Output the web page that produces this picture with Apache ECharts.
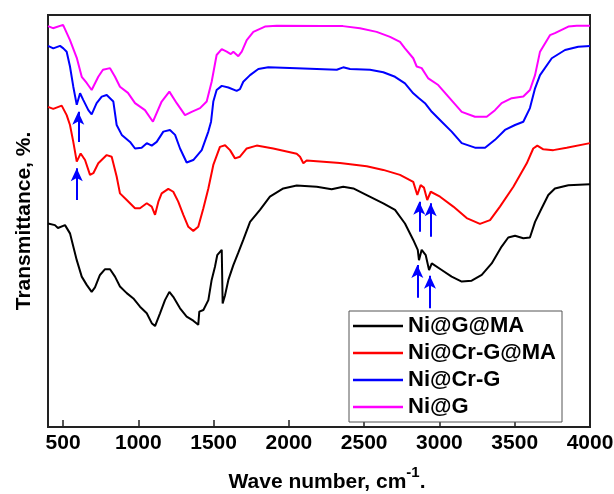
<!DOCTYPE html>
<html>
<head>
<meta charset="utf-8">
<script src="https://cdn.jsdelivr.net/npm/echarts@6/dist/echarts.min.js"></script>
<style>
html,body{margin:0;padding:0;background:#fff;}
#chart{width:614px;height:494px;}
</style>
</head>
<body>
<div id="chart"></div>
<script>
// Series names (legend order)
var seriesNames = ['Ni@G@MA', 'Ni@Cr-G@MA', 'Ni@Cr-G', 'Ni@G'];
var seriesColors = ['#000000', '#ff0000', '#0000ff', '#ff00ff'];

// X tick labels (wave number, cm-1)
var xTicks = [500, 1000, 1500, 2000, 2500, 3000, 3500, 4000];

// Ni@G@MA  [wave number, transmittance (a.u. %)]
var niGMA = [
  [400,49.4],[446,49.0],[466,48.3],[513,49.0],[546,47.0],[568,43.8],[591,40.5],[624,36.5],
  [657,34.5],[690,32.8],[712,33.9],[745,36.9],[779,38.3],[812,38.3],[845,36.5],[878,34.1],
  [923,32.5],[967,31.2],[1011,29.2],[1056,27.6],[1089,25.2],[1111,24.5],[1144,27.6],[1177,30.8],
  [1206,32.8],[1232,31.6],[1277,28.8],[1321,26.8],[1365,25.8],[1398,24.8],[1405,28.0],[1432,28.4],
  [1465,30.8],[1487,35.7],[1509,38.9],[1524,41.7],[1554,43.0],[1560,30.0],[1576,32.0],[1598,35.7],
  [1631,39.3],[1664,42.3],[1697,45.4],[1742,49.8],[1808,52.7],[1874,55.9],[1963,57.9],[2052,58.6],
  [2185,58.3],[2284,57.7],[2361,58.3],[2428,57.9],[2517,56.3],[2627,54.3],[2705,52.7],[2771,49.4],
  [2826,45.4],[2856,43.0],[2864,40.5],[2882,43.0],[2909,41.7],[2931,38.1],[2949,39.7],[3015,38.1],
  [3081,36.5],[3148,35.3],[3214,35.5],[3281,36.9],[3347,39.7],[3413,43.8],[3457,46.0],[3502,46.4],
  [3557,45.8],[3601,46.0],[3635,49.8],[3679,53.1],[3723,56.3],[3767,57.9],[3856,58.7],[4000,58.9]
];

// Ni@Cr-G@MA
var niCrGMA = [
  [400,77.7],[435,77.2],[491,78.0],[524,75.7],[546,73.3],[568,69.2],[591,64.4],[601,64.0],
  [617,66.4],[646,64.8],[679,61.2],[701,61.6],[734,64.0],[790,66.0],[823,65.6],[856,60.8],
  [878,56.7],[923,55.1],[978,53.1],[1011,53.1],[1056,54.3],[1089,53.5],[1111,51.5],[1133,54.7],
  [1155,56.7],[1199,57.8],[1232,57.1],[1265,54.7],[1299,51.5],[1332,48.6],[1365,47.6],[1398,48.6],
  [1432,53.1],[1465,57.9],[1498,63.6],[1542,68.0],[1576,68.4],[1609,67.2],[1642,65.2],[1675,65.6],
  [1720,67.6],[1786,68.3],[1896,67.6],[2052,66.3],[2074,65.6],[2096,64.0],[2118,64.7],[2229,64.4],
  [2339,64.1],[2517,63.3],[2627,62.4],[2738,61.2],[2826,59.5],[2853,56.3],[2875,58.7],[2897,58.1],
  [2919,55.1],[2942,57.1],[3004,55.9],[3092,53.5],[3181,50.7],[3269,49.3],[3336,50.2],[3402,53.5],
  [3491,58.3],[3580,64.0],[3623,67.6],[3650,68.3],[3690,67.4],[3756,67.2],[3845,67.8],[4000,68.9]
];

// Ni@Cr-G
var niCrG = [
  [400,92.5],[435,91.9],[480,92.5],[502,91.9],[524,91.1],[546,87.5],[568,82.6],[591,78.2],
  [613,81.0],[634,79.4],[668,76.9],[690,75.9],[723,78.6],[757,80.2],[790,80.6],[834,79.0],
  [856,73.3],[890,70.9],[945,69.2],[978,67.6],[1022,67.8],[1056,68.9],[1089,68.3],[1122,69.2],
  [1166,71.7],[1210,72.1],[1244,70.9],[1277,67.6],[1321,64.2],[1365,64.8],[1421,67.2],[1465,71.7],
  [1483,74.1],[1498,79.0],[1520,81.8],[1554,82.8],[1598,82.4],[1653,81.6],[1675,82.0],[1697,83.8],
  [1742,85.4],[1797,86.9],[1863,87.3],[2052,87.1],[2185,86.9],[2318,86.7],[2361,87.3],[2406,86.9],
  [2539,86.7],[2627,86.1],[2705,85.0],[2771,83.4],[2826,81.0],[2860,79.9],[2904,78.6],[2949,76.5],
  [3015,74.1],[3081,71.7],[3148,68.9],[3236,67.8],[3303,67.8],[3369,69.7],[3435,72.1],[3502,73.3],
  [3557,74.1],[3601,77.4],[3635,82.2],[3668,85.4],[3746,89.5],[3834,91.5],[3922,92.3],[4000,92.5]
];

// Ni@G
var niG = [
  [400,97.3],[433,96.8],[500,97.6],[546,93.9],[591,89.6],[624,85.0],[657,83.5],[690,81.8],
  [734,85.0],[765,86.7],[812,87.1],[845,85.0],[878,82.6],[931,81.1],[978,78.6],[1044,76.9],
  [1097,74.1],[1155,79.0],[1206,81.4],[1255,78.6],[1310,75.7],[1354,76.5],[1410,77.4],[1454,79.0],
  [1487,83.8],[1520,90.3],[1554,91.7],[1587,91.1],[1614,90.5],[1631,91.1],[1664,90.0],[1687,91.1],
  [1720,93.9],[1764,95.9],[1841,97.2],[1919,97.4],[2227,97.3],[2359,97.3],[2472,96.8],[2583,95.9],
  [2672,94.7],[2738,93.5],[2771,91.9],[2826,89.5],[2849,87.5],[2882,87.1],[2926,84.6],[2992,83.0],
  [3059,80.2],[3148,76.5],[3236,75.3],[3314,75.3],[3369,76.9],[3413,78.6],[3480,79.8],[3557,80.2],
  [3601,81.8],[3635,85.4],[3668,91.1],[3734,95.1],[3767,95.6],[3856,97.2],[3912,97.4],[4000,97.4]
];

// Annotation arrows: [wave number, tail transmittance, head transmittance]
var arrows = [
  [601, 69.2, 76.5],
  [591, 55.1, 62.8],
  [2866, 47.4, 54.7],
  [2942, 46.2, 54.3],
  [2853, 31.4, 39.3],
  [2937, 28.8, 36.7]
];

var FONT = '"Liberation Sans", Arial, sans-serif';
var seriesData = [niGMA, niCrGMA, niCrG, niG];

var series = seriesData.map(function (d, i) {
  return {
    name: seriesNames[i],
    type: 'line',
    data: d,
    showSymbol: false,
    symbol: 'none',
    color: seriesColors[i],
    lineStyle: { width: 2, color: seriesColors[i] },
    z: 3
  };
});

series[2].markLine = {
  silent: true,
  symbol: ['none', 'arrow'],
  symbolSize: [9, 13],
  label: { show: false },
  lineStyle: { color: '#0000ff', width: 2, type: 'solid' },
  emphasis: { disabled: true },
  data: arrows.map(function (a) {
    return [{ coord: [a[0], a[1]] }, { coord: [a[0], a[2]] }];
  })
};

var chart = echarts.init(document.getElementById('chart'), null, { renderer: 'canvas' });
chart.setOption({
  animation: false,
  backgroundColor: '#ffffff',
  grid: {
    left: 48, right: 24, top: 15, bottom: 67,
    outerBoundsMode: 'none',
    containLabel: false,
    show: true, borderColor: '#222', borderWidth: 2, backgroundColor: 'transparent'
  },
  legend: {
    data: seriesNames,
    orient: 'vertical',
    left: 349, top: 311,
    icon: 'rect',
    itemWidth: 50, itemHeight: 2.5,
    itemGap: 5,
    padding: [4, 6, 4, 4],
    backgroundColor: '#ffffff',
    borderColor: '#555',
    borderWidth: 1,
    borderRadius: 0,
    selectedMode: false,
    textStyle: { fontFamily: FONT, fontSize: 22, fontWeight: 'bold', color: '#000', lineHeight: 22 }
  },
  xAxis: {
    type: 'value',
    min: 400, max: 4000,
    name: '{a|Wave number, cm}{b|-1}{a|.}',
    nameLocation: 'middle',
    nameGap: 38,
    nameTextStyle: {
      padding: [0, 0, 0, 16],
      rich: {
        a: { fontFamily: FONT, fontSize: 21, fontWeight: 'bold', color: '#000', lineHeight: 28, verticalAlign: 'bottom' },
        b: { fontFamily: FONT, fontSize: 15, fontWeight: 'bold', color: '#000', lineHeight: 15, verticalAlign: 'top' }
      }
    },
    axisLine: { show: true, onZero: false, lineStyle: { color: '#222', width: 2 } },
    axisTick: { show: true, inside: true, length: 7, lineStyle: { color: '#222', width: 1.5 }, customValues: xTicks },
    axisLabel: {
      fontFamily: FONT, fontSize: 21, fontWeight: 'bold', color: '#000', margin: 6,
      customValues: xTicks, hideOverlap: false,
      formatter: function (v) { return String(Math.round(v)); }
    },
    splitLine: { show: false }
  },
  yAxis: {
    type: 'value',
    min: 0, max: 100,
    name: 'Transmittance, %.',
    nameLocation: 'middle',
    nameGap: 13,
    nameTextStyle: { fontFamily: FONT, fontSize: 21, fontWeight: 'bold', color: '#000' },
    axisLine: { show: true, onZero: false, lineStyle: { color: '#222', width: 2 } },
    axisTick: { show: false },
    axisLabel: { show: false },
    splitLine: { show: false }
  },
  series: series
});
</script>
</body>
</html>
